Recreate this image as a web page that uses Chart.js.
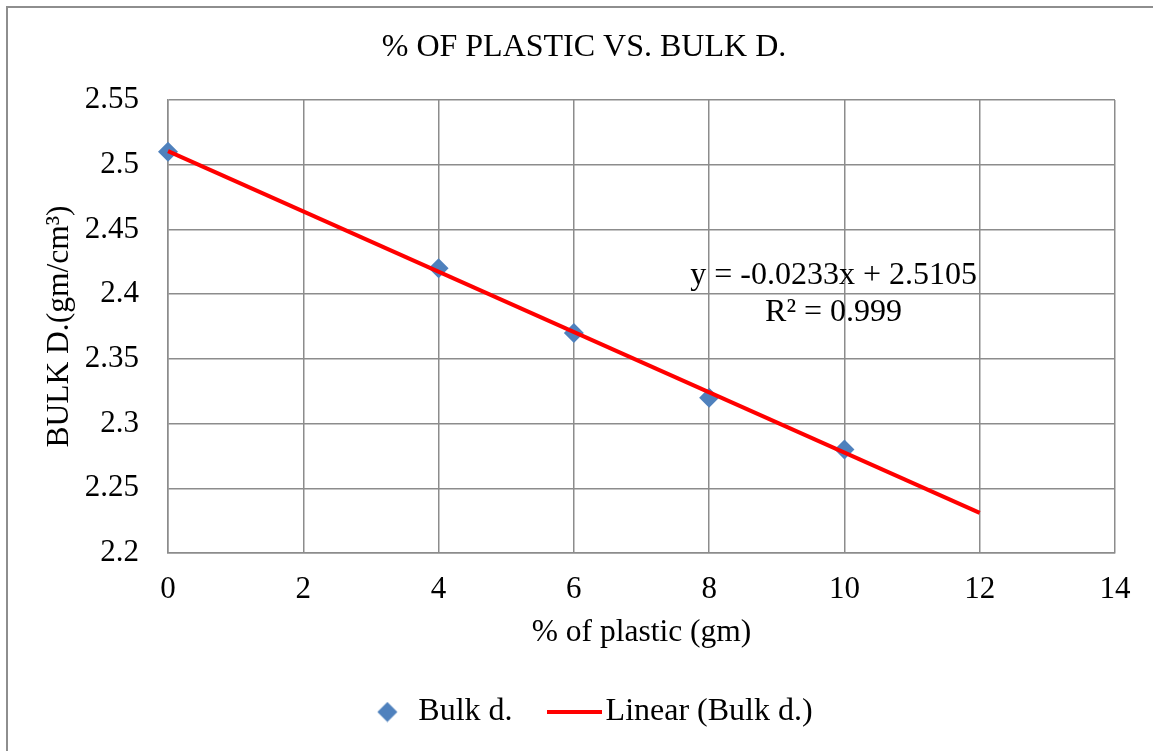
<!DOCTYPE html>
<html>
<head>
<meta charset="utf-8">
<script src="https://cdn.jsdelivr.net/npm/chart.js@4.4.1/dist/chart.umd.min.js"></script>
<style>
  html, body { margin: 0; padding: 0; background: #fff; }
  #wrap { position: relative; width: 1153px; height: 751px; overflow: hidden; }
  #frame { position: absolute; left: 6px; top: 6px; width: 1200px; height: 800px;
           border-left: 2px solid #8e8e8e; border-top: 2px solid #8e8e8e; }
  canvas { position: absolute; left: 0; top: 0; }
</style>
</head>
<body>
<div id="wrap"><div id="frame"></div><canvas id="c" width="1153" height="751"></canvas></div>
<script>
// Datos
const plastic = [0, 4, 6, 8, 10];
const bulkD = [2.51, 2.42, 2.37, 2.32, 2.28];
const trendX = [0, 12];
const trendY = [2.5105, 2.231];
const xTicks = [0, 2, 4, 6, 8, 10, 12, 14];
const yTicks = [2.2, 2.25, 2.3, 2.35, 2.4, 2.45, 2.5, 2.55];
const equation = ["y = -0.0233x + 2.5105", "R\u00B2 = 0.999"];
const eqAt = { x: 9.84, y: 2.4145 };

const FAMILY = '"Liberation Serif", "Times New Roman", serif';
const FONT = { family: FAMILY, size: 31 };
const BIG = { family: FAMILY, size: 32 };
const AXT = { family: FAMILY, size: 31.5 };
const GRID = "#8c8c8c";
const BLUE = "#4F81BD", RED = "#FF0000";

// Símbolos de la leyenda (rombo y línea roja)
function diamond() {
  const c = document.createElement("canvas"); c.width = 21; c.height = 21;
  const g = c.getContext("2d"); g.fillStyle = BLUE;
  g.beginPath(); g.moveTo(10.5, 0.5); g.lineTo(20.5, 10.5); g.lineTo(10.5, 20.5); g.lineTo(0.5, 10.5);
  g.closePath(); g.fill();
  return c;
}
function redLine() {
  const c = document.createElement("canvas"); c.width = 55; c.height = 4;
  const g = c.getContext("2d"); g.fillStyle = RED; g.fillRect(0, 0, 55, 4);
  return c;
}
const legendIcons = [diamond(), redLine()];

const overlay = {
  id: "overlay",
  afterDatasetsDraw(chart) {
    const { ctx, scales: { x, y } } = chart;
    const px = x.getPixelForValue(eqAt.x), py = y.getPixelForValue(eqAt.y);
    ctx.save();
    ctx.font = `${BIG.size}px ${FAMILY}`;
    ctx.fillStyle = "#000"; ctx.textAlign = "center"; ctx.textBaseline = "middle";
    ctx.fillText(equation[0], px, py);
    ctx.fillText(equation[1], px, py + 37);
    ctx.restore();
  },
  afterDraw(chart) {
    const { ctx } = chart;
    ctx.save();
    ctx.font = `${BIG.size}px ${FAMILY}`;
    ctx.fillStyle = "#000"; ctx.textAlign = "center"; ctx.textBaseline = "middle";
    ctx.fillText("% OF PLASTIC VS. BULK D.", 584, 47.5);
    ctx.restore();
  },
};

const axisBase = (ticks) => ({
  type: "linear",
  afterBuildTicks: (s) => { s.ticks = ticks.map((v) => ({ value: v })); },
  grid: { color: GRID, lineWidth: 1.5, drawTicks: false },
  border: { color: GRID, width: 1.5 },
});

new Chart(document.getElementById("c"), {
  type: "scatter",
  data: {
    datasets: [
      {
        label: "Bulk d.",
        data: plastic.map((x, i) => ({ x, y: bulkD[i] })),
        pointStyle: "rectRot", pointRadius: 10, pointHoverRadius: 10,
        backgroundColor: BLUE, borderColor: BLUE, borderWidth: 0, order: 2, clip: false,
      },
      {
        type: "line",
        label: "Linear (Bulk d.)",
        data: trendX.map((x, i) => ({ x, y: trendY[i] })),
        borderColor: RED, backgroundColor: RED, borderWidth: 4, pointRadius: 0,
        fill: false, tension: 0, order: 1, clip: false,
      },
    ],
  },
  options: {
    responsive: false,
    animation: false,
    events: [],
    layout: { padding: { left: 32, right: 0, top: 100, bottom: 13 } },
    plugins: {
      title: { display: false },
      tooltip: { enabled: false },
      legend: {
        position: "bottom",
        labels: {
          usePointStyle: true, pointStyleWidth: 30, padding: 15,
          color: "#000", font: BIG,
          sort: (a, b) => a.datasetIndex - b.datasetIndex,
          generateLabels(chart) {
            const items = Chart.defaults.plugins.legend.labels.generateLabels(chart);
            items.forEach((it) => {
              it.pointStyle = legendIcons[it.datasetIndex];
              if (it.datasetIndex === 0) it.text += "    ";
            });
            return items;
          },
        },
      },
    },
    scales: {
      x: {
        ...axisBase(xTicks),
        min: 0, max: 14,
        ticks: { color: "#000", font: FONT, padding: 18, maxRotation: 0, callback: (v) => String(v) },
        title: { display: true, text: "% of plastic (gm)", color: "#000", font: AXT, padding: { top: 0, bottom: 29 } },
        afterFit: (s) => { s.height = 128; },
      },
      y: {
        ...axisBase(yTicks),
        min: 2.2, max: 2.55,
        ticks: { color: "#000", font: FONT, padding: 29, callback: (v) => String(v) },
        title: { display: true, text: "BULK D.(gm/cm\u00B3)", color: "#000", font: AXT, padding: { top: 9, bottom: 0 } },
        afterFit: (s) => { s.width = 136; },
      },
      // eje vacío para dejar el margen derecho del área de trazado
      yRight: {
        type: "linear", position: "right", min: 0, max: 1,
        grid: { display: false }, border: { display: false }, ticks: { display: false },
        afterFit: (s) => { s.width = 38; },
      },
    },
  },
  plugins: [overlay],
});
</script>
</body>
</html>
